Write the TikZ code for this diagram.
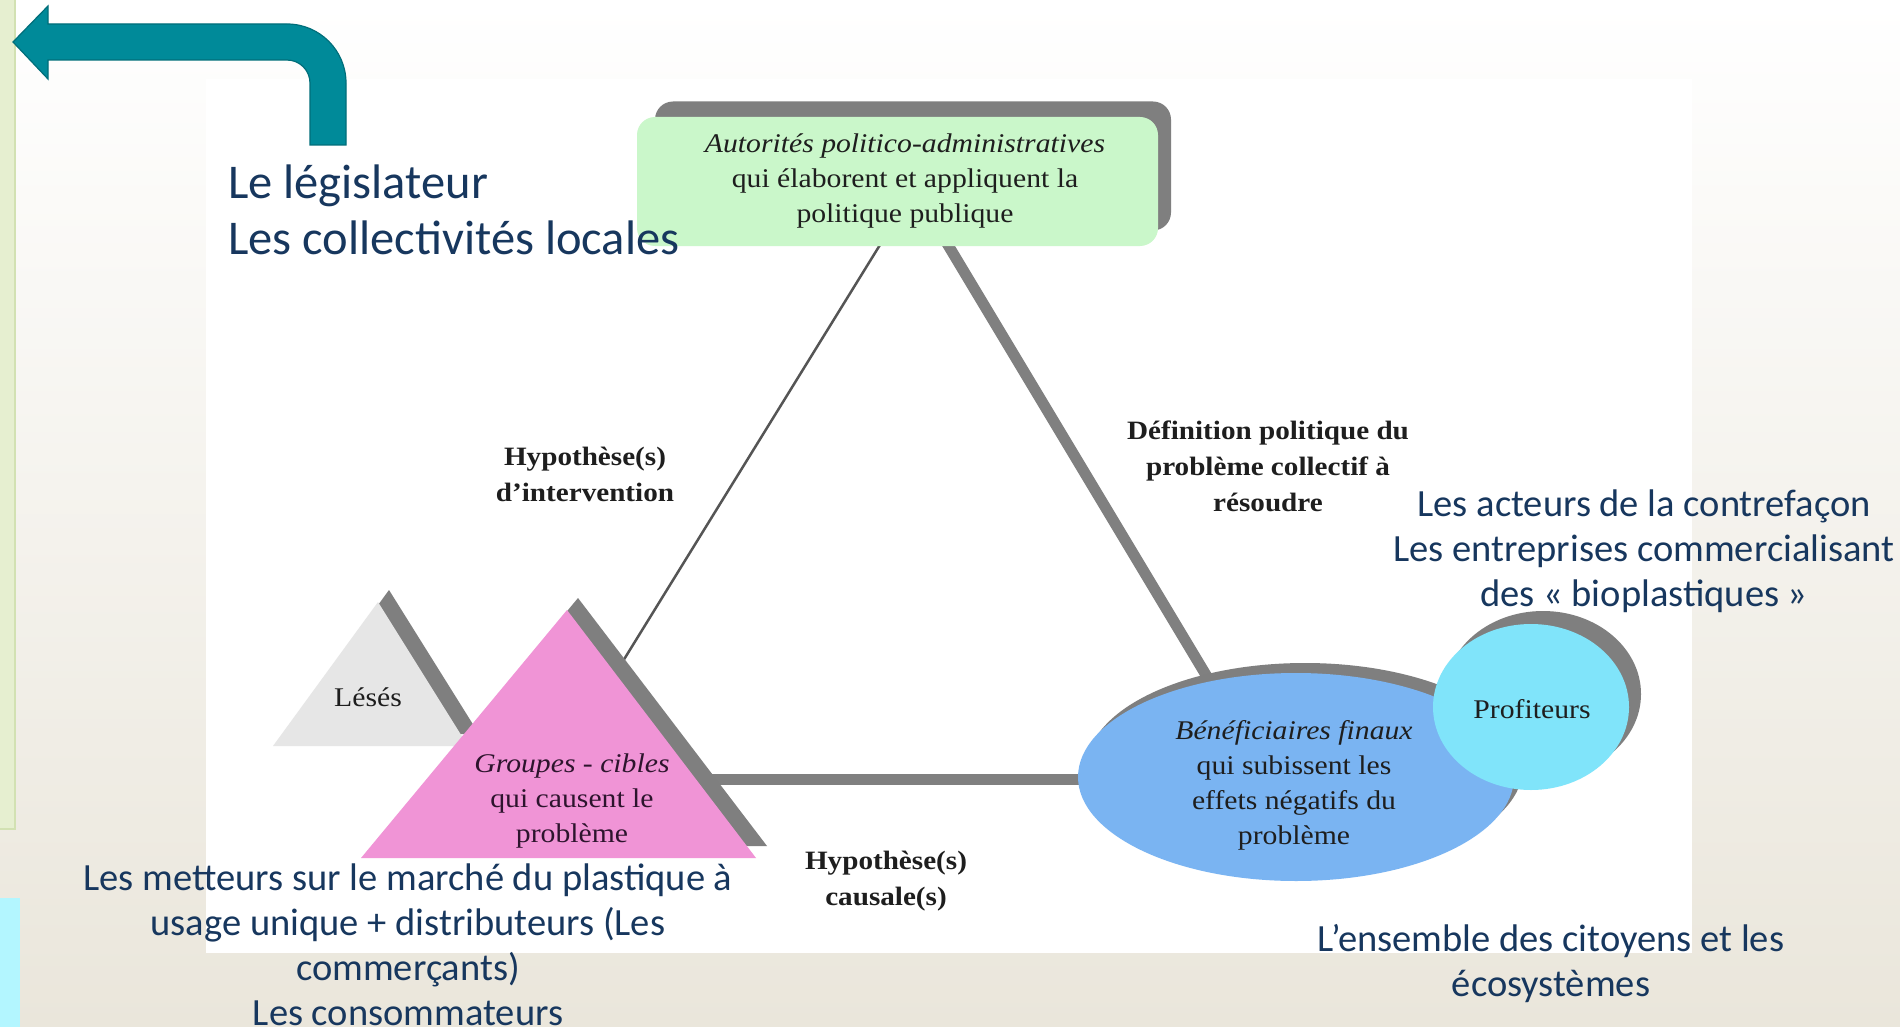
\documentclass[tikz,border=0pt]{standalone}
\usepackage{fontspec}
\setmainfont{Carlito}
\newfontfamily\tnr[FakeStretch=1.1]{Liberation Serif}
\usetikzlibrary{shapes.geometric}
\definecolor{navy}{RGB}{23,55,94}
\definecolor{teal}{RGB}{0,138,153}
\definecolor{tealdark}{RGB}{0,110,122}
\definecolor{beigebot}{RGB}{234,230,219}
\definecolor{beigemid}{RGB}{243,241,235}
\definecolor{stripgreen}{RGB}{230,239,208}
\definecolor{stripgreenb}{RGB}{210,225,178}
\definecolor{stripcyan}{RGB}{179,246,255}
\definecolor{boxgreen}{RGB}{202,247,202}
\definecolor{shadowgray}{RGB}{127,127,127}
\definecolor{linegray}{RGB}{128,128,128}
\definecolor{thinline}{RGB}{85,85,85}
\definecolor{lesesgray}{RGB}{230,230,230}
\definecolor{pinkfill}{RGB}{240,148,214}
\definecolor{bluefill}{RGB}{122,180,242}
\definecolor{cyanfill}{RGB}{128,228,250}
\definecolor{serifink}{RGB}{30,30,30}
\begin{document}
\begin{tikzpicture}[x=1pt,y=-1pt,
  sanslabel/.style={text=navy, align=center, inner sep=0pt, font={\fontsize{38.5}{45}\selectfont}},
  biglabel/.style={text=navy, align=left, inner sep=0pt, font={\fontsize{48.5}{56}\selectfont}},
  seriftext/.style={text=serifink, align=center, inner sep=0pt, font={\tnr\fontsize{27}{35}\selectfont}},
  boldlabel/.style={text=serifink, align=center, inner sep=0pt, font={\tnr\bfseries\fontsize{26.5}{36}\selectfont}},
  thickconn/.style={draw=linegray, line width=11pt},
  thinconn/.style={draw=thinline, line width=2.5pt},
  shadowfill/.style={fill=shadowgray, draw=none},
  shd/.style={shift={(11,-12)}},
]
\useasboundingbox (0,0) rectangle (1900,1027);
% background
\shade[top color=white, middle color=beigemid, bottom color=beigebot] (0,0) rectangle (1900,1027);
\filldraw[fill=stripgreen, draw=stripgreenb, line width=1.2pt] (-2,-2) rectangle (15,829);
\fill[stripcyan] (0,898) rectangle (20,1027);
% pasted picture area
\fill[white] (206,79) rectangle (1692,953);

% teal bent arrow
\filldraw[fill=teal, draw=tealdark, line width=1.2pt]
  (13,42) -- (48,6) -- (48,24) -- (287,24)
  .. controls (319.6,24) and (346,50.4) .. (346,83)
  -- (346,145) -- (310,145) -- (310,83)
  .. controls (310,70.3) and (299.7,60) .. (287,60)
  -- (48,60) -- (48,79) -- cycle;

% connector end points
\coordinate (thinA) at (883,240);
\coordinate (thinB) at (615,674);
\coordinate (thickA) at (945,240);
\coordinate (thickB) at (1212,685);
\coordinate (horA) at (700,779);
\coordinate (horB) at (1100,779);
\draw[thinconn] (thinA) -- (thinB);
\draw[thickconn] (thickA) -- (thickB);
\draw[thickconn] (horA) -- (horB);

% green box (authorities)
\node[shadowfill, rounded corners=18pt, minimum width=516pt, minimum height=129pt] (authshadow) at (913,166) {};
\node[fill=boxgreen, draw=none, rounded corners=18pt, minimum width=521pt, minimum height=129pt] (auth) at (897.5,181.5) {};
\node[seriftext] (authtext) at (905,181) {\itshape Autorités politico-administratives\\qui élaborent et appliquent la\\politique publique};

% Lésés triangle
\coordinate (lA) at (378,602);
\coordinate (lB) at (273,746);
\coordinate (lC) at (468,746);
\fill[shadowgray] ([shd]lA) -- ([shd]lB) -- ([shd]lC) -- cycle;
\fill[lesesgray] (lA) -- (lB) -- (lC) -- cycle;
\node[seriftext] (leses) at (368,697) {Lésés};

% Groupes-cibles triangle
\coordinate (gA) at (567,610);
\coordinate (gB) at (361,858);
\coordinate (gC) at (756,858);
\fill[shadowgray] ([shd]gA) -- ([shd]gB) -- ([shd]gC) -- cycle;
\fill[pinkfill] (gA) -- (gB) -- (gC) -- cycle;
\node[seriftext, text={rgb,255:red,45;green,20;blue,45}] (groupes) at (572,801) {\itshape Groupes - cibles\\qui causent le\\problème};

% Bénéficiaires ellipse
\node[ellipse, shadowfill, minimum width=436pt, minimum height=208pt, inner sep=0pt] (benefshadow) at (1305,767) {};
\node[ellipse, fill=bluefill, draw=none, minimum width=436pt, minimum height=208pt, inner sep=0pt] (benef) at (1296,777) {};
\node[seriftext] (beneftext) at (1294,785) {\itshape Bénéficiaires finaux\\qui subissent les\\effets négatifs du\\problème};

% Profiteurs
\node[ellipse, shadowfill, minimum width=196pt, minimum height=166pt, inner sep=0pt] (profshadow) at (1543,694) {};
\node[ellipse, fill=cyanfill, draw=none, minimum width=196pt, minimum height=166pt, inner sep=0pt] (prof) at (1531,707) {};
\node[seriftext] (proftext) at (1532,709) {Profiteurs};

% bold labels
\node[boldlabel] (hypint) at (585,474) {Hypothèse(s)\\d’intervention};
\node[boldlabel] (defpol) at (1268,466) {Définition politique du\\problème collectif à\\résoudre};
\node[boldlabel] (hypcaus) at (886,881) {Hypothèse(s)\\causale(s)};

% overlay texts
\node[biglabel, anchor=west] (legis) at (228,210) {Le législateur\\Les collectivités locales};
\node[sanslabel] (profiteurs) at (1644,551) {Les acteurs de la contrefaçon\\Les entreprises commercialisant\\des « bioplastiques »};
\node[sanslabel] (metteurs) at (408,945) {Les metteurs sur le marché du plastique à\\usage unique + distributeurs (Les\\commerçants)\\Les consommateurs};
\node[sanslabel] (citoyens) at (1551,964) {L’ensemble des citoyens et les\\écosystèmes};
\end{tikzpicture}
\end{document}
